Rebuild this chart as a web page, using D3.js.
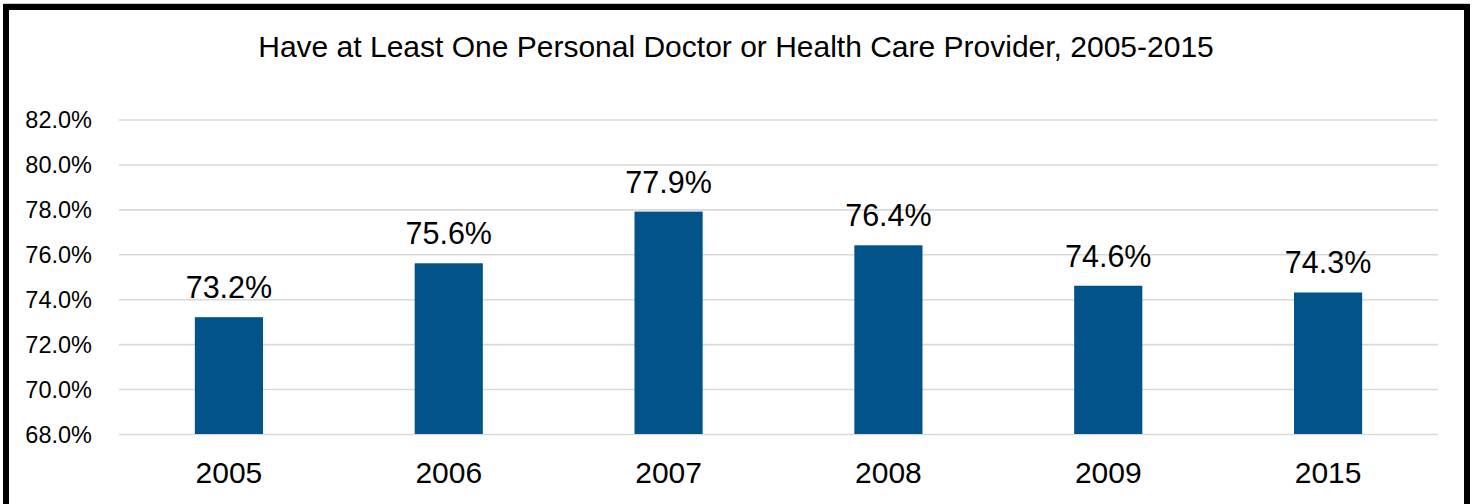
<!DOCTYPE html>
<html><head><meta charset="utf-8">
<script src="https://cdn.jsdelivr.net/npm/d3@7"></script>
<style>html,body{margin:0;padding:0;background:#fff;}svg{display:block;}</style>
</head><body>
<svg id="chart" width="1475" height="504"></svg>
<script>
const categories = ["2005","2006","2007","2008","2009","2015"];
const values = [73.2, 75.6, 77.9, 76.4, 74.6, 74.3];
const yTicks = [68, 70, 72, 74, 76, 78, 80, 82];
const title = "Have at Least One Personal Doctor or Health Care Provider, 2005-2015";

(function () {
const svg = d3.select("#chart");
const font = "'Liberation Sans', Arial, sans-serif";
const plotLeft = 119, plotRight = 1438, plotTop = 119.5, plotBottom = 434;

// frame
svg.append("rect").attr("x", 4).attr("y", 3.5).attr("width", 1465).attr("height", 520)
  .attr("fill", "none").attr("stroke", "#ccc").attr("stroke-width", 1);
svg.append("rect").attr("x", 6).attr("y", 7).attr("width", 1461).attr("height", 520)
  .attr("fill", "#fff").attr("stroke", "#000").attr("stroke-width", 6);

svg.append("text").attr("x", 736).attr("y", 57).attr("text-anchor", "middle")
  .attr("font-family", font).attr("font-size", 30).attr("fill", "#000").text(title);

const x = d3.scaleBand().domain(categories).range([plotLeft, plotRight]).paddingInner(0.69).paddingOuter(0.345);
const y = d3.scaleLinear().domain([68, 82]).range([plotBottom, plotTop]);

const yAxis = svg.append("g").attr("transform", `translate(${plotLeft},0)`)
  .call(d3.axisLeft(y).tickValues(yTicks).tickSize(-(plotRight - plotLeft)).tickPadding(27)
    .tickFormat(d => d3.format(".1f")(d) + "%"));
yAxis.select(".domain").remove();
yAxis.selectAll(".tick line").attr("stroke", "#d9d9d9").attr("stroke-width", 1.6);
yAxis.selectAll(".tick text").attr("font-family", font).attr("font-size", 23.5).attr("fill", "#000").attr("dy", "0.35em");

svg.append("g").selectAll("rect").data(values).join("rect")
  .attr("x", (d, i) => x(categories[i])).attr("width", x.bandwidth())
  .attr("y", d => y(d)).attr("height", d => y(68) - y(d))
  .attr("fill", "#02538A");

svg.append("g").selectAll("text").data(values).join("text")
  .attr("x", (d, i) => x(categories[i]) + x.bandwidth() / 2)
  .attr("y", d => y(d) - 19)
  .attr("text-anchor", "middle").attr("font-family", font).attr("font-size", 30.5).attr("fill", "#000")
  .text(d => d.toFixed(1) + "%");

const xAxis = svg.append("g").attr("transform", `translate(0,${plotBottom})`)
  .call(d3.axisBottom(x).tickSize(0).tickPadding(0));
xAxis.select(".domain").remove();
xAxis.selectAll(".tick text").attr("font-family", font).attr("font-size", 30).attr("fill", "#000")
  .attr("dy", 0).attr("y", 49);
})();
</script>
</body></html>
